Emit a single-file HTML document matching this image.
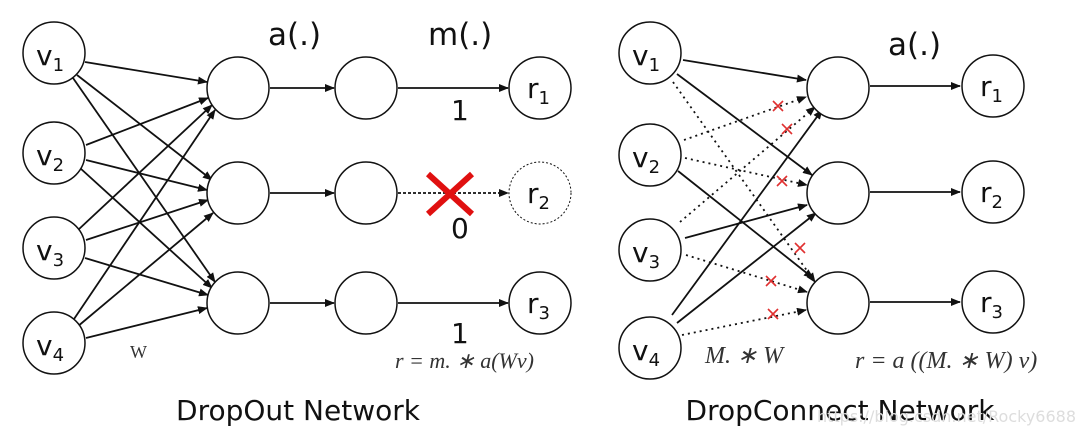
<!DOCTYPE html>
<html><head><meta charset="utf-8"><style>
html,body{margin:0;padding:0;background:#fff;}
svg{display:block}
text{font-family:"DejaVu Sans","Liberation Sans",sans-serif;fill:#111}
.m{font-family:"Liberation Serif",serif;font-style:italic;fill:#333}
</style></head><body>
<svg width="1080" height="443" viewBox="0 0 1080 443" xmlns="http://www.w3.org/2000/svg">
<defs><marker id="a" markerWidth="10" markerHeight="8" refX="9" refY="4" orient="auto" markerUnits="userSpaceOnUse"><path d="M0,0 L10,4 L0,8 z" fill="#111"/></marker></defs>
<g stroke="#111" stroke-width="1.8" fill="none" marker-end="url(#a)">
<line x1="85" y1="62" x2="207" y2="82"/>
<line x1="77" y1="75" x2="212" y2="180"/>
<line x1="73" y1="78" x2="215" y2="282"/>
<line x1="86" y1="145" x2="208" y2="98"/>
<line x1="86" y1="160" x2="207" y2="190"/>
<line x1="80" y1="168" x2="212" y2="288"/>
<line x1="78" y1="230" x2="212" y2="105"/>
<line x1="86" y1="240" x2="208" y2="200"/>
<line x1="85" y1="258" x2="208" y2="295"/>
<line x1="72" y1="322" x2="215" y2="110"/>
<line x1="77" y1="327" x2="213" y2="213"/>
<line x1="86" y1="338" x2="207" y2="308"/>
<line x1="270" y1="88" x2="334" y2="88"/>
<line x1="270" y1="193" x2="334" y2="193"/>
<line x1="270" y1="303" x2="334" y2="303"/>
<line x1="398" y1="88" x2="508" y2="88"/>
<line x1="398" y1="303" x2="508" y2="303"/>
<line x1="398" y1="193" x2="508" y2="193" stroke-dasharray="3,2"/>
<line x1="683" y1="60" x2="806" y2="80"/>
<line x1="677" y1="74" x2="812" y2="175"/>
<line x1="678" y1="171" x2="813" y2="278"/>
<line x1="685" y1="238" x2="807" y2="205"/>
<line x1="672" y1="315" x2="822" y2="110"/>
<line x1="677" y1="323" x2="816" y2="213"/>
<line x1="870" y1="86" x2="960" y2="86"/>
<line x1="870" y1="192" x2="960" y2="192"/>
<line x1="870" y1="302" x2="960" y2="302"/>
</g>
<g stroke="#111" stroke-width="1.8" fill="none" stroke-dasharray="2,4" marker-end="url(#a)">
<line x1="673" y1="82" x2="815" y2="282"/>
<line x1="684" y1="140" x2="806" y2="97"/>
<line x1="685" y1="158" x2="807" y2="185"/>
<line x1="680" y1="222" x2="815" y2="107"/>
<line x1="686" y1="255" x2="807" y2="292"/>
<line x1="682" y1="335" x2="806" y2="310"/>
</g>
<g fill="#fff" stroke="#111" stroke-width="1.5">
<circle cx="54" cy="53" r="31"/><circle cx="54" cy="153" r="31"/><circle cx="54" cy="248" r="31"/><circle cx="54" cy="343" r="31"/>
<circle cx="238" cy="88" r="31"/><circle cx="238" cy="193" r="31"/><circle cx="238" cy="303" r="31"/>
<circle cx="366" cy="88" r="31"/><circle cx="366" cy="193" r="31"/><circle cx="366" cy="303" r="31"/>
<circle cx="540" cy="88" r="31"/><circle cx="540" cy="303" r="31"/>
<circle cx="540" cy="193" r="31" stroke-dasharray="2,2" stroke-width="1"/>
<circle cx="650" cy="53" r="31"/><circle cx="650" cy="155" r="31"/><circle cx="650" cy="250" r="31"/><circle cx="650" cy="348" r="31"/>
<circle cx="838" cy="88" r="31"/><circle cx="838" cy="193" r="31"/><circle cx="838" cy="303" r="31"/>
<circle cx="993" cy="86" r="31"/><circle cx="993" cy="192" r="31"/><circle cx="993" cy="302" r="31"/>
</g>
<g stroke="#e01010" stroke-width="6"><line x1="428" y1="174" x2="472" y2="214"/><line x1="472" y1="174" x2="428" y2="214"/></g>
<g stroke="#e03030" stroke-width="1.6">
<path d="M773,101l10,10M783,101l-10,10"/><path d="M782,124l10,10M792,124l-10,10"/>
<path d="M777,176l10,10M787,176l-10,10"/><path d="M795,243l10,10M805,243l-10,10"/>
<path d="M766,276l10,10M776,276l-10,10"/><path d="M768,309l10,10M778,309l-10,10"/>
</g>
<g font-size="28">
<text x="36" y="65">v<tspan font-size="18" dy="6">1</tspan></text>
<text x="36" y="165">v<tspan font-size="18" dy="6">2</tspan></text>
<text x="36" y="260">v<tspan font-size="18" dy="6">3</tspan></text>
<text x="36" y="355">v<tspan font-size="18" dy="6">4</tspan></text>
<text x="527" y="98">r<tspan font-size="18" dy="6">1</tspan></text>
<text x="527" y="203">r<tspan font-size="18" dy="6">2</tspan></text>
<text x="527" y="313">r<tspan font-size="18" dy="6">3</tspan></text>
<text x="632" y="65">v<tspan font-size="18" dy="6">1</tspan></text>
<text x="632" y="167">v<tspan font-size="18" dy="6">2</tspan></text>
<text x="632" y="262">v<tspan font-size="18" dy="6">3</tspan></text>
<text x="632" y="360">v<tspan font-size="18" dy="6">4</tspan></text>
<text x="980" y="96">r<tspan font-size="18" dy="6">1</tspan></text>
<text x="980" y="202">r<tspan font-size="18" dy="6">2</tspan></text>
<text x="980" y="312">r<tspan font-size="18" dy="6">3</tspan></text>
<text x="451" y="120">1</text>
<text x="451" y="238">0</text>
<text x="451" y="343">1</text>
</g>
<g font-size="31">
<text x="268" y="45">a(.)</text>
<text x="428" y="45">m(.)</text>
<text x="888" y="55">a(.)</text>
</g>
<text x="130" y="358" font-size="18" class="m" style="font-style:normal">W</text>
<text x="395" y="368" font-size="22" class="m">r = m. ∗ a(Wv)</text>
<text x="705" y="363" font-size="24" class="m">M. ∗ W</text>
<text x="855" y="368" font-size="24" class="m">r = a ((M. ∗ W) v)</text>
<text x="298" y="420" font-size="28" text-anchor="middle">DropOut Network</text>
<text x="840" y="420" font-size="28" text-anchor="middle">DropConnect Network</text>
<text x="1076" y="422" font-size="16" text-anchor="end" style="fill:#ddd">https://blog.csdn.net/Rocky6688</text>
</svg>
</body></html>
